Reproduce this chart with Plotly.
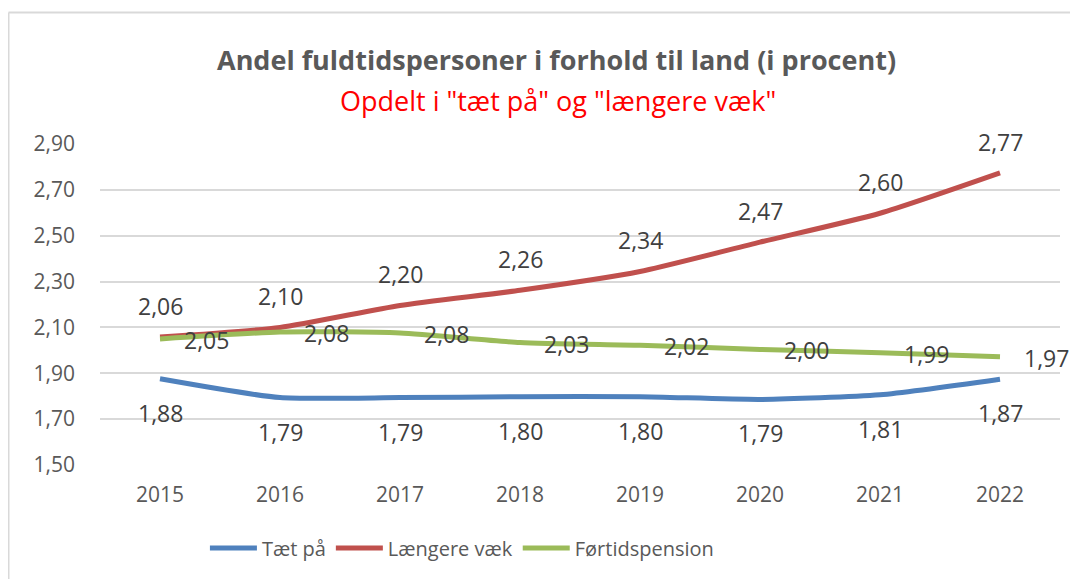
import plotly.graph_objects as go

years = [2015, 2016, 2017, 2018, 2019, 2020, 2021, 2022]
taet_paa = [1.876, 1.794, 1.794, 1.798, 1.798, 1.786, 1.806, 1.874]
laengere_vaek = [2.058, 2.10, 2.196, 2.262, 2.344, 2.472, 2.598, 2.774]
foertidspension = [2.05, 2.08, 2.076, 2.034, 2.022, 2.004, 1.99, 1.972]
y_ticks = [1.50, 1.70, 1.90, 2.10, 2.30, 2.50, 2.70, 2.90]

series = [
    ("Tæt på", taet_paa, "#4F81BD", 0, -34),
    ("Længere væk", laengere_vaek, "#C0504D", 0, 31),
    ("Førtidspension", foertidspension, "#9BBB59", 46, -1),
]

FONT = "Open Sans"
fig = go.Figure()
annotations = []
for name, vals, color, xs, ys in series:
    fig.add_trace(go.Scatter(
        x=years, y=vals, name=name, mode="lines",
        line=dict(color=color, width=5, shape="spline", smoothing=0.6),
    ))
    for x, v in zip(years, vals):
        annotations.append(dict(
            x=x, y=v, xref="x", yref="y", text=f"{v:.2f}".replace(".", ","),
            showarrow=False, xshift=xs, yshift=ys,
            font=dict(family=FONT, size=23, color="#404040"),
        ))

annotations.append(dict(
    xref="paper", yref="paper", x=0.475, y=1.262, xanchor="center", yanchor="middle",
    text="<b>Andel fuldtidspersoner i forhold til land (i procent)</b>",
    showarrow=False, font=dict(family=FONT, size=27, color="#595959"),
))
annotations.append(dict(
    xref="paper", yref="paper", x=0.477, y=1.137, xanchor="center", yanchor="middle",
    text='Opdelt i "tæt på" og "længere væk"',
    showarrow=False, font=dict(family=FONT, size=27, color="#FF0000"),
))

fig.update_layout(
    width=1070, height=571,
    margin=dict(l=92, r=18, t=136, b=114),
    paper_bgcolor="white", plot_bgcolor="white",
    showlegend=True,
    legend=dict(orientation="h", x=0.377, xanchor="center", y=-0.2586, yanchor="middle",
                font=dict(family=FONT, size=20, color="#595959"), itemwidth=47,
                traceorder="normal"),
    annotations=annotations,
    shapes=[
        dict(type="line", xref="paper", yref="paper", x0=-0.0953, x1=1.1, y0=1.4097, y1=1.4097,
             line=dict(color="#D9D9D9", width=2)),
        dict(type="line", xref="paper", yref="paper", x0=-0.0953, x1=-0.0953, y0=-0.5, y1=1.4097,
             line=dict(color="#D9D9D9", width=2)),
    ],
)
fig.update_xaxes(range=[2014.5, 2022.5], tickvals=years, ticktext=[str(y) for y in years],
                 showgrid=False, showline=False, zeroline=False,
                 ticks="", ticklabelstandoff=15,
                 tickfont=dict(family=FONT, size=21, color="#595959"))
fig.update_yaxes(range=[1.50, 2.90], tickvals=y_ticks,
                 ticktext=[f"{t:.2f}".replace(".", ",") for t in y_ticks],
                 showgrid=True, gridcolor="#D9D9D9", gridwidth=2, zeroline=False,
                 showline=False, ticks="", ticklabelstandoff=24,
                 tickfont=dict(family=FONT, size=21, color="#595959"))

fig.write_html("out.html")
